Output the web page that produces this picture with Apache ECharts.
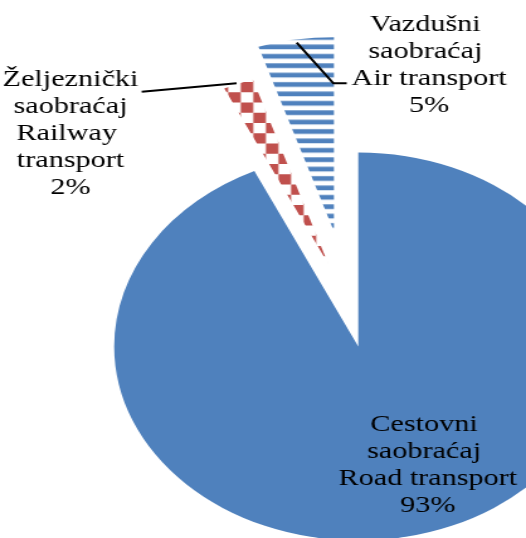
<!DOCTYPE html>
<html>
<head>
<meta charset="utf-8">
<script src="https://cdn.jsdelivr.net/npm/echarts@6/dist/echarts.min.js"></script>
<style>
  html, body { margin: 0; padding: 0; background: #fff; overflow: hidden; }
  #wrap { width: 526px; height: 538px; overflow: hidden; position: relative; }
  /* the pie is drawn as an ellipse: plot in a narrower box and stretch it */
  #chart { width: 418px; height: 538px; transform: scaleX(1.25837); transform-origin: 0 0; }
</style>
</head>
<body>
<div id="wrap"><div id="chart"></div></div>
<script>
// Transport modes and their shares (%)
const namesLocal = ['Cestovni saobraćaj', 'Željeznički saobraćaj', 'Vazdušni saobraćaj'];
const namesEn = ['Road transport', 'Railway transport', 'Air transport'];
const shares = [93, 2, 5];

// layout (in the unstretched plot box)
const pieCenters = [[281, 330], [287, 330], [281, 330]];
const pieRadius = 194;
const explode = [17, 71, 100];
const labelPos = [
  { x: 340, y: 465, width: 152 },
  { x: 56, y: 134, width: 135 },
  { x: 341, y: 65, width: 135 }
];
const leaderLines = [
  null,
  [[112.6, 91.7], [188, 83.3]],
  [[235.8, 42.7], [264.9, 83.3], [275.5, 83.3]]
];

const BLUE = '#4F81BD';
const RED = '#C0504D';

function stripePattern() {
  const c = document.createElement('canvas');
  c.width = 8; c.height = 47;
  const g = c.getContext('2d');
  g.fillStyle = BLUE;
  const period = 9.4, oy = 2.3;
  for (let k = -1; k < 6; k++) g.fillRect(0, oy + k * period, 8, 4.7);
  return c;
}

function checkerPattern() {
  const c = document.createElement('canvas');
  c.width = 20; c.height = 41;
  const g = c.getContext('2d');
  g.fillStyle = RED;
  const cw = 10, ch = 10.25, ox = 17.4, oy = 4.5;
  for (let col = -3; col <= 3; col++) {
    for (let row = -6; row <= 6; row++) {
      if (((col + row) % 2 + 2) % 2 === 0) g.fillRect(ox + col * cw, oy + row * ch, cw, ch);
    }
  }
  return c;
}

const fills = [
  BLUE,
  { image: checkerPattern(), repeat: 'repeat' },
  { image: stripePattern(), repeat: 'repeat' }
];

const chart = echarts.init(document.getElementById('chart'), null, { renderer: 'canvas' });

// one pie layer per slice so each slice can be pulled out by its own distance
const series = shares.map((_, i) => ({
  type: 'pie',
  center: pieCenters[i],
  radius: pieRadius,
  startAngle: 90,
  clockwise: true,
  silent: true,
  animation: false,
  selectedMode: 'single',
  selectedOffset: explode[i],
  emphasis: { disabled: true },
  label: { show: false },
  labelLine: { show: false },
  data: shares.map((v, j) => ({
    value: v,
    name: namesEn[j],
    selected: j === i,
    itemStyle: j === i ? { color: fills[j], borderWidth: 0 } : { color: 'rgba(0,0,0,0)', borderWidth: 0 }
  }))
}));

// data labels and their leader lines
const graphics = [];
shares.forEach((v, i) => {
  const L = labelPos[i];
  graphics.push({
    type: 'text',
    silent: true,
    z: 100,
    style: {
      text: namesLocal[i] + ' ' + namesEn[i] + '\n' + v + '%',
      x: L.x,
      y: L.y,
      width: L.width,
      overflow: 'break',
      font: '24px "Liberation Serif"',
      lineHeight: 27,
      fill: '#000',
      align: 'center',
      verticalAlign: 'middle',
      textAlign: 'center',
      textVerticalAlign: 'middle'
    }
  });
  if (leaderLines[i]) {
    graphics.push({
      type: 'polyline',
      silent: true,
      z: 100,
      shape: { points: leaderLines[i] },
      style: { stroke: '#000', lineWidth: 2, fill: null }
    });
  }
});

chart.setOption({
  backgroundColor: '#fff',
  animation: false,
  series: series,
  graphic: graphics
});
</script>
</body>
</html>
